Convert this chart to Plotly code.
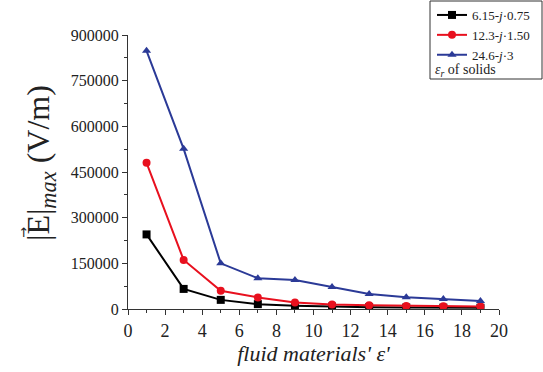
import plotly.graph_objects as go

x_eps = [1, 3, 5, 7, 9, 11, 13, 15, 17, 19]
e_black = [245000, 66000, 30000, 16000, 11000, 8000, 6000, 5000, 4500, 4000]
e_red = [480000, 161000, 60000, 38000, 21000, 15000, 12000, 10000, 9000, 8000]
e_blue = [848000, 526000, 150000, 101000, 95000, 72000, 49000, 39000, 33000, 26000]
names = ["6.15-<i>j</i>·0.75", "12.3-<i>j</i>·1.50", "24.6-<i>j</i>·3"]
colors = ["#000000", "#e8101e", "#2b3a97"]
symbols = ["square", "circle", "triangle-up"]
y_ticks = [0, 150000, 300000, 450000, 600000, 750000, 900000]

font_family = "Liberation Serif"
L, R, T, B = 128, 499, 35, 309
W = R - L
H = B - T

def px(x):
    return (x - L) / W

def py(y):
    return (B - y) / H

fig = go.Figure()
for ys, nm, c, s in zip([e_black, e_red, e_blue], names, colors, symbols):
    fig.add_trace(go.Scatter(
        x=x_eps, y=ys, name=nm, mode="lines+markers",
        line=dict(color=c, width=2),
        marker=dict(symbol=s, size=8, color=c),
    ))

fig.update_layout(
    width=543, height=372,
    margin=dict(l=L, r=543 - R, t=T, b=372 - B, autoexpand=False),
    paper_bgcolor="white", plot_bgcolor="white",
    font=dict(family=font_family, color="#222"),
    showlegend=True,
    legend=dict(
        x=px(432), y=py(0), xanchor="left", yanchor="top",
        font=dict(size=13, family=font_family, color="#222"),
        bgcolor="rgba(0,0,0,0)", borderwidth=0,
        tracegroupgap=0, itemwidth=30,
    ),
    xaxis=dict(
        range=[0, 20], tickmode="array", tickvals=list(range(0, 21, 2)),
        showgrid=False, zeroline=False,
        showline=True, linecolor="#333", linewidth=1,
        ticks="outside", ticklen=5, tickcolor="#333",
        tickfont=dict(size=18, family=font_family, color="#222"),
        minor=dict(ticks="outside", ticklen=3, dtick=1, tick0=0, tickcolor="#333"),
        title=dict(text="<i>fluid materials' ε'</i>",
                   font=dict(size=22, family=font_family, color="#222"), standoff=4),
    ),
    yaxis=dict(
        range=[0, 900000], tickmode="array", tickvals=y_ticks,
        ticktext=[str(v) for v in y_ticks],
        showgrid=False, zeroline=False,
        showline=True, linecolor="#333", linewidth=1,
        ticks="outside", ticklen=5, tickcolor="#333",
        tickfont=dict(size=16, family=font_family, color="#222"),
        minor=dict(ticks="outside", ticklen=3, dtick=75000, tick0=0, tickcolor="#333"),
    ),
)

# y-axis title with vector arrow over E
fig.add_annotation(xref="paper", yref="paper", x=px(40), y=py(163),
                   xanchor="center", yanchor="middle", showarrow=False, textangle=-90,
                   text="|E|<sub><i>max</i></sub> (V/m)",
                   font=dict(size=32, family=font_family, color="#222"))
fig.add_annotation(xref="paper", yref="paper", x=px(23), y=py(233),
                   xanchor="center", yanchor="middle", showarrow=False, textangle=-90,
                   text="→", font=dict(size=13, family="DejaVu Sans", color="#222"))

# legend frame and caption
fig.add_shape(type="rect", xref="paper", yref="paper",
              x0=px(430), x1=px(542), y0=py(79), y1=py(1),
              line=dict(color="#333", width=1), fillcolor="rgba(0,0,0,0)")
fig.add_annotation(xref="paper", yref="paper", x=px(433), y=py(70),
                   xanchor="left", yanchor="middle", showarrow=False,
                   text="<i>ε<sub>r</sub></i> of solids",
                   font=dict(size=14, family=font_family, color="#222"))

fig.write_html("out.html")
